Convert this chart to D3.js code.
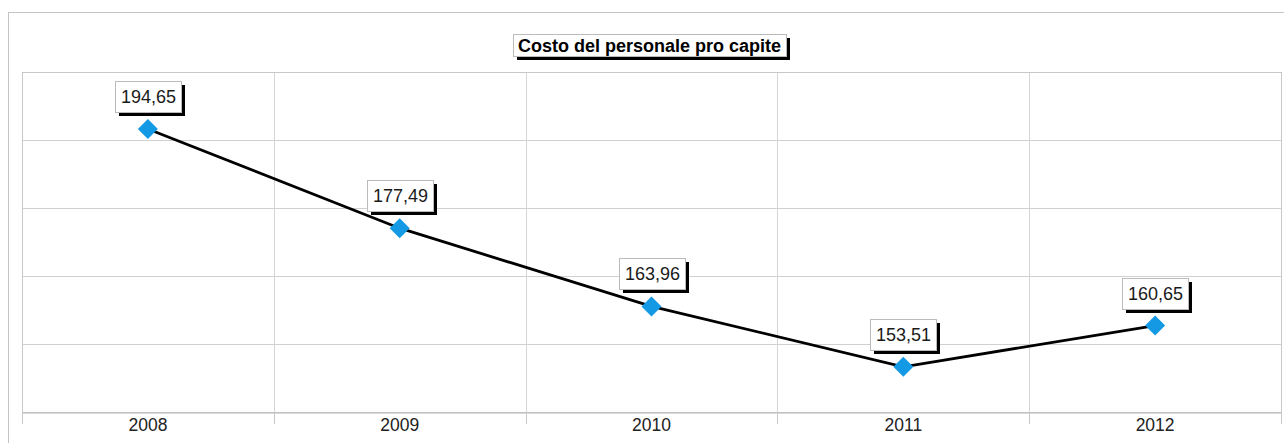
<!DOCTYPE html>
<html>
<head>
<meta charset="utf-8">
<script src="https://cdn.jsdelivr.net/npm/d3@7"></script>
<style>
    html, body { margin: 0; padding: 0; background: #fff; }
    svg { display: block; }
    text { font-family: "Liberation Sans", Arial, sans-serif; }
</style>
</head>
<body>
<div id="chart"></div>
<script>
    // data
    const years = ["2008", "2009", "2010", "2011", "2012"];
    const values = [194.65, 177.49, 163.96, 153.51, 160.65];
    const title = "Costo del personale pro capite";
    // hidden value axis
    const yDomain = [145.7, 204.5];
    const gridCount = 5;

    const W = 1284, H = 443;
    const plot = {left: 22, top: 72, right: 1281, bottom: 412};

    const svg = d3.select("#chart").append("svg")
        .attr("width", W)
        .attr("height", H);

    // outer frame
    svg.append("rect")
        .attr("x", 8.5).attr("y", 12.5)
        .attr("width", W).attr("height", H)
        .attr("fill", "none")
        .attr("stroke", "#c4c4c4")
        .attr("stroke-width", 1);

    const x = d3.scaleBand()
        .domain(years)
        .range([plot.left, plot.right]);

    const y = d3.scaleLinear()
        .domain(yDomain)
        .range([plot.bottom, plot.top]);

    const fmt = v => d3.format(".2f")(v).replace(".", ",");

    // gridlines
    const gridVals = d3.range(gridCount + 1).map(i =>
        yDomain[0] + i * (yDomain[1] - yDomain[0]) / gridCount);

    svg.append("g")
        .selectAll("line")
        .data(gridVals)
        .join("line")
        .attr("x1", plot.left).attr("x2", plot.right)
        .attr("y1", d => Math.round(y(d)) + 0.5)
        .attr("y2", d => Math.round(y(d)) + 0.5)
        .attr("stroke", "#d0d0d0");

    svg.append("g")
        .selectAll("line")
        .data(years.slice(1))
        .join("line")
        .attr("x1", d => Math.round(x(d)) + 0.5)
        .attr("x2", d => Math.round(x(d)) + 0.5)
        .attr("y1", plot.top).attr("y2", plot.bottom)
        .attr("stroke", "#d6d6d6");

    // plot border
    svg.append("rect")
        .attr("x", plot.left + 0.5).attr("y", plot.top + 0.5)
        .attr("width", plot.right - plot.left)
        .attr("height", plot.bottom - plot.top)
        .attr("fill", "none")
        .attr("stroke", "#c8c8c8");

    // category axis
    const xAxis = svg.append("g")
        .attr("transform", `translate(0,${plot.bottom + 0.5})`)
        .call(d3.axisBottom(x).tickSize(0).tickPadding(6));

    xAxis.select(".domain").attr("stroke", "#b8b8b8");
    xAxis.selectAll("text")
        .attr("font-size", 17.5)
        .attr("fill", "#222")
        .attr("font-family", "'Liberation Sans', Arial, sans-serif");

    // ticks between categories
    svg.append("g")
        .selectAll("line")
        .data(years.concat(["end"]))
        .join("line")
        .attr("x1", (d, i) => Math.round(i < years.length ? x(d) : x.range()[1]) + 0.5)
        .attr("x2", (d, i) => Math.round(i < years.length ? x(d) : x.range()[1]) + 0.5)
        .attr("y1", plot.bottom)
        .attr("y2", plot.bottom + 12)
        .attr("stroke", "#c8c8c8");

    const cx = d => x(d) + x.bandwidth() / 2;

    // line
    const line = d3.line()
        .x((d, i) => cx(years[i]))
        .y(d => y(d));

    svg.append("path")
        .datum(values)
        .attr("d", line)
        .attr("fill", "none")
        .attr("stroke", "#000")
        .attr("stroke-width", 2.8);

    // markers
    svg.append("g")
        .selectAll("path")
        .data(values)
        .join("path")
        .attr("d", d3.symbol(d3.symbolSquare, 200))
        .attr("transform", (d, i) => `translate(${cx(years[i])},${y(d)}) rotate(45)`)
        .attr("fill", "#1499e4");

    // value labels
    const label = svg.append("g")
        .selectAll("g")
        .data(values)
        .join("g")
        .attr("transform", (d, i) => `translate(${Math.round(cx(years[i]))},${Math.round(y(d))})`);

    const bw = 66, bh = 31;

    label.append("rect")
        .attr("x", -bw / 2 + 4).attr("y", -17 - bh + 4)
        .attr("width", bw).attr("height", bh)
        .attr("fill", "#000");

    label.append("rect")
        .attr("x", -bw / 2 + 0.5).attr("y", -17 - bh + 0.5)
        .attr("width", bw).attr("height", bh)
        .attr("fill", "#fff")
        .attr("stroke", "#bbb");

    label.append("text")
        .attr("x", 0.5)
        .attr("y", -17 - bh / 2 + 6.5)
        .attr("text-anchor", "middle")
        .attr("font-size", 18)
        .attr("fill", "#1a1a1a")
        .text(fmt);

    // title
    const tx = (plot.left + plot.right) / 2 - 2;
    const tg = svg.append("g").attr("transform", `translate(${tx},34)`);
    const tw = 273, th = 22;

    tg.append("rect")
        .attr("x", -tw / 2 + 4).attr("y", 4)
        .attr("width", tw).attr("height", th)
        .attr("fill", "#000");

    tg.append("rect")
        .attr("x", -tw / 2 + 0.5).attr("y", 0.5)
        .attr("width", tw).attr("height", th)
        .attr("fill", "#fff")
        .attr("stroke", "#bbb");

    tg.append("text")
        .attr("x", 0)
        .attr("y", 17.5)
        .attr("text-anchor", "middle")
        .attr("font-size", 18)
        .attr("font-weight", "bold")
        .attr("fill", "#000")
        .text(title);
</script>
</body>
</html>
